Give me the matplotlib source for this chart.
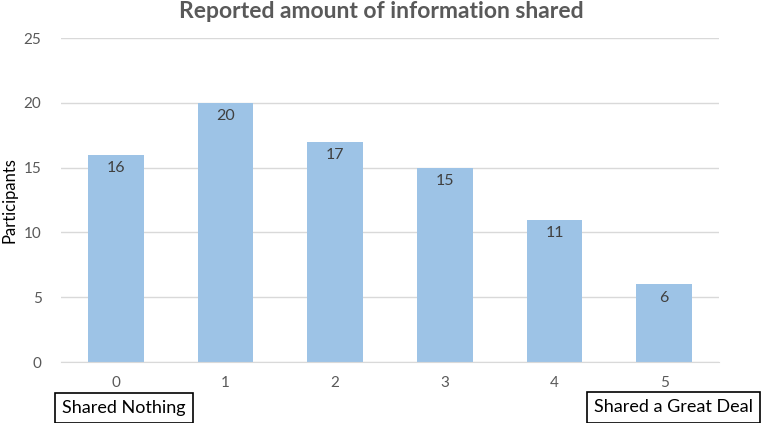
import matplotlib.pyplot as plt

categories = ["0", "1", "2", "3", "4", "5"]
values = [16, 20, 17, 15, 11, 6]
yticks = [0, 5, 10, 15, 20, 25]

plt.rcParams['font.family'] = ['Lato', 'DejaVu Sans']

fig = plt.figure(figsize=(7.62, 4.23), dpi=100)
ax = fig.add_axes([0.080, 0.144, 0.8636, 0.766])

x = list(range(len(categories)))
bars = ax.bar(x, values, width=0.51, color='#9DC3E6', zorder=2)
for xi, v in zip(x, values):
    ax.text(xi, v - 0.5, str(v), ha='center', va='top', fontsize=11.5, color='#404040', zorder=3)

ax.set_xlim(-0.5, 5.5)
ax.set_ylim(0, 25)
ax.set_yticks(yticks)
ax.set_xticks(x)
ax.set_xticklabels(categories)
ax.grid(axis='y', color='#D9D9D9', linewidth=1, zorder=0)
for s in ['top', 'right', 'left']:
    ax.spines[s].set_visible(False)
ax.spines['bottom'].set_color('#D9D9D9')
ax.tick_params(axis='both', length=0, labelsize=11, labelcolor='#595959')
ax.tick_params(axis='y', pad=14)
ax.tick_params(axis='x', pad=10)
ax.set_ylabel('Participants', fontsize=12, color='black')
ax.yaxis.set_label_coords(-0.066, 0.5)

fig.text(0.5, 0.972, 'Reported amount of information shared', ha='center', va='center',
         fontsize=16.5, fontweight='bold', color='#595959')

box = dict(boxstyle='square,pad=0.4', facecolor='white', edgecolor='black', linewidth=1.2)
fig.text(0.163, 0.035, 'Shared Nothing', ha='center', va='center', fontsize=13, color='black', bbox=box)
fig.text(0.884, 0.037, 'Shared a Great Deal', ha='center', va='center', fontsize=13, color='black', bbox=box)

fig.savefig('out.png', dpi=100)
